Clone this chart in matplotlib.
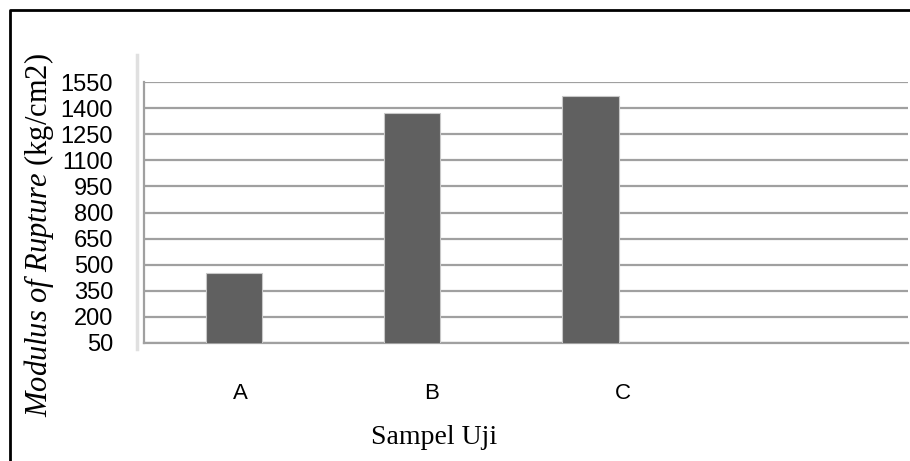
import numpy as np
import matplotlib
matplotlib.use("Agg")
import matplotlib.pyplot as plt
from matplotlib.lines import Line2D

# data
sampel = ["A", "B", "C"]
mor = [450, 1370, 1470]
yticks = [50, 200, 350, 500, 650, 800, 950, 1100, 1250, 1400, 1550]

plt.rcParams['mathtext.fontset'] = 'custom'
plt.rcParams['mathtext.it'] = 'Liberation Serif:italic'
plt.rcParams['mathtext.rm'] = 'Liberation Serif'

fig = plt.figure(figsize=(9.1, 4.61), dpi=100)
ax = fig.add_axes([0.158, 0.256, 0.84, 0.566])

x = np.arange(len(sampel))
ax.bar(x, mor, width=0.314, color="#606060", edgecolor="#c8c8c8", linewidth=0.8, zorder=3)

ax.set_ylim(50, 1550)
ax.set_xlim(-0.503, 3.78)
ax.set_yticks(yticks)
ax.set_yticklabels([str(v) for v in yticks], fontsize=17, family="Liberation Sans")
ax.yaxis.grid(True, color="#a0a0a0", linewidth=1.6, zorder=0)

# category labels sit a bit to the right of the bars in the original
ax.set_xticks(x * 1.07 + 0.04)
ax.set_xticklabels(sampel, fontsize=16, family="Liberation Sans")
ax.tick_params(axis="both", length=0)
ax.tick_params(axis="y", pad=22)
ax.tick_params(axis="x", pad=29)

for s in ["top", "right"]:
    ax.spines[s].set_visible(False)
for s in ["left", "bottom"]:
    ax.spines[s].set_color("#a0a0a0")
    ax.spines[s].set_linewidth(1.6)

fig.text(434 / 910, 1 - 437 / 461, "Sampel Uji", fontsize=20, family="Liberation Serif",
         ha="center", va="center")
fig.text(39 / 910, 1 - 235 / 461, r"$\mathit{Modulus\ of\ Rupture}$ (kg/cm2)", fontsize=22,
         family="Liberation Serif", rotation=90, ha="center", va="center")

# faint vertical line left of the plot and the black frame at top/left
fig.add_artist(Line2D([137 / 910, 137 / 910], [1 - 55 / 461, 1 - 349 / 461],
                      color="#e0e0e0", linewidth=2.5))
fig.add_artist(Line2D([10 / 910, 10 / 910, 1], [0, 1 - 10 / 461, 1 - 10 / 461],
                      color="black", linewidth=2))

fig.savefig("out.png", dpi=100)
